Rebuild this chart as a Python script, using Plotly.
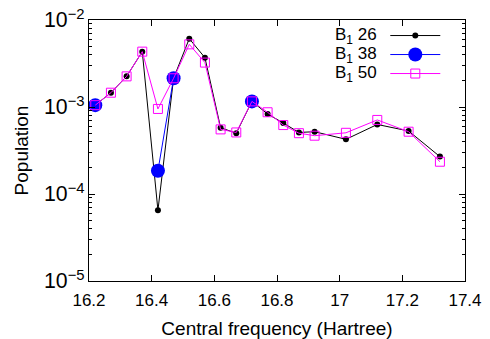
import plotly.graph_objects as go

# Central frequencies (Hartree)
freq = [16.22, 16.27, 16.32, 16.37, 16.42, 16.47, 16.52, 16.57, 16.62, 16.67,
        16.72, 16.77, 16.82, 16.87, 16.92, 17.02, 17.12, 17.22, 17.32]

# B1 = 26
pop_26 = [1.05e-3, 1.46e-3, 2.25e-3, 4.33e-3, 6.5e-5, 2.14e-3, 6.1e-3, 3.69e-3, 5.78e-4, 5.0e-4,
          1.16e-3, 8.3e-4, 6.55e-4, 5.1e-4, 5.2e-4, 4.25e-4, 6.3e-4, 5.3e-4, 2.69e-4]

# B1 = 38 (only where it differs / is shown)
freq_38 = [16.22, None, 16.42, 16.47, None, 16.72]
pop_38 = [1.05e-3, None, 1.85e-4, 2.14e-3, None, 1.16e-3]

# B1 = 50
pop_50 = [1.05e-3, 1.46e-3, 2.25e-3, 4.33e-3, 9.5e-4, 2.14e-3, 5.25e-3, 3.24e-3, 5.53e-4, 5.1e-4,
          1.16e-3, 8.7e-4, 6.2e-4, 5.0e-4, 4.68e-4, 5.05e-4, 7.1e-4, 5.2e-4, 2.35e-4]

labels = ["B<sub>1</sub> 26", "B<sub>1</sub> 38", "B<sub>1</sub> 50"]

FONT = "Liberation Sans, Arial, sans-serif"

decades = [-5, -4, -3]
minor_vals = [m * 10 ** d for d in decades for m in range(2, 10)]

fig = go.Figure()
fig.add_trace(go.Scatter(x=freq, y=pop_26, mode="lines+markers", name=" ",
                         line=dict(color="#000000", width=1),
                         marker=dict(symbol="circle", size=6, color="#000000")))
fig.add_trace(go.Scatter(x=freq_38, y=pop_38, mode="lines+markers", name=" ",
                         connectgaps=False,
                         line=dict(color="#0000ff", width=1),
                         marker=dict(symbol="circle", size=14, color="#0000ff")))
fig.add_trace(go.Scatter(x=freq, y=pop_50, mode="lines+markers", name=" ",
                         line=dict(color="#ff00ff", width=1),
                         marker=dict(symbol="square-open", size=9, color="#ff00ff",
                                     line=dict(width=1, color="#ff00ff"))))
# invisible helper trace so the minor-tick axis is drawn
fig.add_trace(go.Scatter(x=[freq[0]], y=[pop_26[0]], yaxis="y2", mode="markers",
                         marker=dict(opacity=0), showlegend=False, hoverinfo="skip"))

ys = [0.938, 0.865, 0.792]
for lab, yy in zip(labels, ys):
    fig.add_annotation(text=lab, xref="paper", yref="paper", x=0.772, y=yy,
                       xanchor="right", yanchor="middle", showarrow=False,
                       font=dict(size=17, color="black", family=FONT))

fig.update_layout(
    width=490, height=339,
    margin=dict(l=89, r=25, t=20, b=58),
    plot_bgcolor="white", paper_bgcolor="white",
    font=dict(family=FONT, size=16, color="black"),
    showlegend=True,
    legend=dict(x=0.788, y=0.996, xanchor="left", yanchor="top",
                bgcolor="rgba(0,0,0,0)", font=dict(size=11),
                itemwidth=50, tracegroupgap=0),
    xaxis=dict(range=[16.2, 17.4], dtick=0.2, tick0=16.2, automargin=False,
               showgrid=False, zeroline=False,
               showline=True, linecolor="black", linewidth=1, mirror="ticks",
               ticks="inside", ticklen=6, tickcolor="black", ticklabelstandoff=4,
               tickfont=dict(size=17),
               title=dict(text="Central frequency (Hartree)", standoff=13)),
    yaxis=dict(type="log", range=[-5, -2], dtick=1, exponentformat="power", automargin=False,
               showgrid=False, zeroline=False,
               showline=True, linecolor="black", linewidth=1, mirror="ticks",
               ticks="inside", ticklen=6, tickcolor="black",
               tickfont=dict(size=17),
               title=dict(text="Population", standoff=10)),
    yaxis2=dict(type="log", range=[-5, -2], overlaying="y", side="left", automargin=False,
                tickmode="array", tickvals=minor_vals, showticklabels=False,
                showgrid=False, zeroline=False, showline=False, mirror="ticks",
                ticks="inside", ticklen=3, tickcolor="black"),
)

fig.write_html("out.html", config={"displayModeBar": False},
               post_script="document.body.style.margin='0';")
